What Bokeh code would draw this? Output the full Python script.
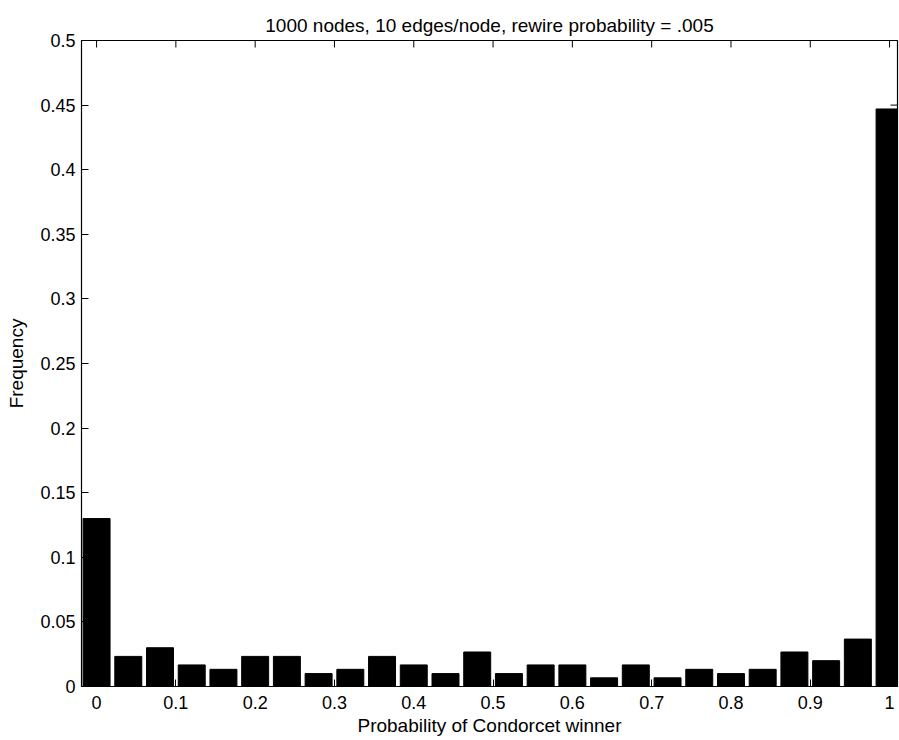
from bokeh.plotting import figure
from bokeh.models import Range1d, FixedTicker
from bokeh.embed import file_html
from bokeh.resources import INLINE

# Data
bin_centers = [0.00, 0.04, 0.08, 0.12, 0.16, 0.20, 0.24, 0.28, 0.32, 0.36, 0.40, 0.44, 0.48,
               0.52, 0.56, 0.60, 0.64, 0.68, 0.72, 0.76, 0.80, 0.84, 0.88, 0.92, 0.96, 1.00]
frequency = [0.130, 0.0233, 0.030, 0.0167, 0.0133, 0.0233, 0.0233, 0.010, 0.0133, 0.0233, 0.0167, 0.010, 0.0267,
             0.010, 0.0167, 0.0167, 0.0067, 0.0167, 0.0067, 0.0133, 0.010, 0.0133, 0.0267, 0.020, 0.0367, 0.447]
x_ticks = [0, 0.1, 0.2, 0.3, 0.4, 0.5, 0.6, 0.7, 0.8, 0.9, 1.0]
x_tick_labels = {0: "0", 0.1: "0.1", 0.2: "0.2", 0.3: "0.3", 0.4: "0.4", 0.5: "0.5",
                 0.6: "0.6", 0.7: "0.7", 0.8: "0.8", 0.9: "0.9", 1.0: "1"}
y_ticks = [0, 0.05, 0.1, 0.15, 0.2, 0.25, 0.3, 0.35, 0.4, 0.45, 0.5]
y_tick_labels = {0: "0", 0.05: "0.05", 0.1: "0.1", 0.15: "0.15", 0.2: "0.2", 0.25: "0.25",
                 0.3: "0.3", 0.35: "0.35", 0.4: "0.4", 0.45: "0.45", 0.5: "0.5"}
title_text = "1000 nodes, 10 edges/node, rewire probability = .005"
xlabel = "Probability of Condorcet winner"
ylabel = "Frequency"

FONT = "Liberation Sans"
X0, X1 = -0.019, 1.010
Y0, Y1 = 0.0, 0.5
W, H = 899, 738
BL, BR, BT, BB = 81, 2, 40, 51
TICK_PX = 7

p = figure(width=W, height=H, output_backend="svg", toolbar_location=None,
           x_range=Range1d(X0, X1), y_range=Range1d(Y0, Y1),
           min_border_left=BL, min_border_right=BR, min_border_top=BT, min_border_bottom=BB)

p.title.text = title_text
p.title.align = "center"
p.title.text_font = FONT
p.title.text_font_size = "19px"
p.title.text_font_style = "normal"
p.title.text_color = "black"
p.title.offset = 0
p.title.standoff = 10

p.vbar(x=bin_centers, top=frequency, width=0.034, bottom=0,
       fill_color="black", line_color="black")

p.grid.visible = False
p.background_fill_color = "white"
p.border_fill_color = "white"
p.outline_line_color = "black"
p.outline_line_width = 1.2

for ax in (p.xaxis[0], p.yaxis[0]):
    ax.major_tick_in = TICK_PX
    ax.major_tick_out = 0
    ax.minor_tick_line_color = None
    ax.axis_line_color = "black"
    ax.major_label_text_font = FONT
    ax.major_label_text_font_size = "18px"
    ax.major_label_text_color = "black"
    ax.axis_label_text_font = FONT
    ax.axis_label_text_font_size = "19px"
    ax.axis_label_text_font_style = "normal"
    ax.axis_label_text_color = "black"

p.xaxis[0].ticker = FixedTicker(ticks=x_ticks)
p.xaxis[0].major_label_overrides = x_tick_labels
p.xaxis[0].axis_label = xlabel
p.xaxis[0].major_label_standoff = 9
p.xaxis[0].axis_label_standoff = 3

p.yaxis[0].ticker = FixedTicker(ticks=y_ticks)
p.yaxis[0].major_label_overrides = y_tick_labels
p.yaxis[0].axis_label = ylabel
p.yaxis[0].major_label_standoff = 6
p.yaxis[0].axis_label_standoff = 10

# inward tick marks on the top and right edges of the box (MATLAB style)
frame_w = W - BL - BR
frame_h = H - BT - BB
dy = TICK_PX * (Y1 - Y0) / frame_h
dx = TICK_PX * (X1 - X0) / frame_w
p.segment(x0=x_ticks, y0=[Y1] * len(x_ticks), x1=x_ticks, y1=[Y1 - dy] * len(x_ticks),
          line_color="black", line_width=1)
p.segment(x0=[X1] * len(y_ticks), y0=y_ticks, x1=[X1 - dx] * len(y_ticks), y1=y_ticks,
          line_color="black", line_width=1)

open("out.html", "w").write(file_html(p, INLINE))
